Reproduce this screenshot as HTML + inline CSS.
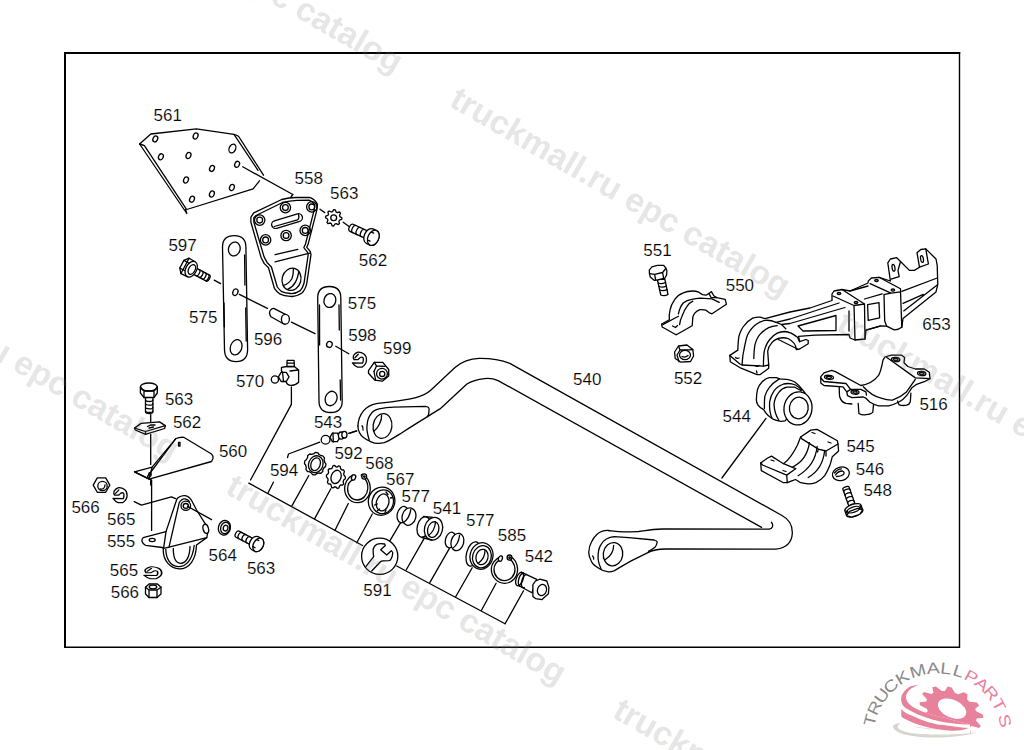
<!DOCTYPE html>
<html><head><meta charset="utf-8"><title>Parts diagram</title>
<style>
html,body{margin:0;padding:0;background:#fff;width:1024px;height:750px;overflow:hidden}
svg{position:absolute;left:0;top:0;display:block}
.wm{font-family:"Liberation Sans",sans-serif;font-weight:bold;font-size:33.5px;fill:#7a7a7a;fill-opacity:0.2}
.lb{font-family:"Liberation Sans",sans-serif;font-size:16.5px;fill:#000;stroke:#fff;stroke-width:0.15px}
.p{fill:none;stroke:#000;stroke-width:1.3;stroke-linejoin:round;stroke-linecap:round}
.pw{fill:#fff;stroke:#000;stroke-width:1.3;stroke-linejoin:round;stroke-linecap:round}
</style></head>
<body>
<svg width="1024" height="750" viewBox="0 0 1024 750">
<!-- frame -->
<path d="M64,53 L960.2,53 M65,52 L65,648" stroke="#000" stroke-width="2" fill="none"/>
<path d="M959.5,52 L959.5,648 M64,647.3 L960.2,647.3" stroke="#000" stroke-width="1.4" fill="none"/>
<!-- PARTS -->
<g id="parts">
<path class="p" d="M139.6,144 L150.8,134 L196.4,128.8 L234,134.4 L258,170.4"/>
<path class="p" d="M234,134.4 Q237,135 238.7,136.5 L263.5,175.2"/>
<path class="p" d="M259.5,180.8 L253.1,188.8 L186.8,209.5"/>
<path class="p" d="M139.6,144 L186.8,213.5 L185.5,209.2"/>
<path class="p" d="M139.6,144 Q142,144.5 144.4,145.6 L186.2,208.8"/>
<ellipse class="p" cx="155.3" cy="138.9" rx="2.3" ry="3.1" transform="rotate(25 155.3 138.9)"/>
<ellipse class="p" cx="195.6" cy="136" rx="2.3" ry="3.1" transform="rotate(25 195.6 136)"/>
<ellipse class="p" cx="160.9" cy="156.8" rx="2.3" ry="3.1" transform="rotate(25 160.9 156.8)"/>
<ellipse class="p" cx="188.5" cy="155.5" rx="2.3" ry="3.1" transform="rotate(25 188.5 155.5)"/>
<ellipse class="p" cx="237.1" cy="164.3" rx="2.3" ry="3.1" transform="rotate(25 237.1 164.3)"/>
<ellipse class="p" cx="212" cy="168.4" rx="2.3" ry="3.1" transform="rotate(25 212 168.4)"/>
<ellipse class="p" cx="186" cy="180" rx="2.3" ry="3.1" transform="rotate(25 186 180)"/>
<ellipse class="p" cx="231.9" cy="187.5" rx="2.3" ry="3.1" transform="rotate(25 231.9 187.5)"/>
<ellipse class="p" cx="211.9" cy="194" rx="2.3" ry="3.1" transform="rotate(25 211.9 194)"/>
<ellipse class="p" cx="192" cy="199.2" rx="2.3" ry="3.1" transform="rotate(25 192 199.2)"/>
<ellipse class="p" cx="232.4" cy="148.5" rx="3.2" ry="4.6" transform="rotate(25 232.4 148.5)"/>
<path class="p" d="M242.7,166.8L292.8,194.5"/>
<path class="pw" d="M253.8,212.8 L281.7,199.5 Q289,197.6 296,197.5 L309.6,197.3 Q315.5,199.5 317.5,204.5 L316.9,209.8 L308.1,244.3 L306.7,247.2 L310.3,251.7 L311,254.6 L306.7,283.9 Q305,290 302.2,292.8 Q296,297 290.5,296.4 Q284,296 280.2,294.2 Q276,291 274.4,288.3 L268.5,267.8 Q266,265 264.1,263.4 L261.1,257.5 L250.9,222.3 L250.9,217.2 Z"/>
<path class="p" d="M256,215.5 L282.5,202.5 Q290,200.5 297,200.3 L309,200.2 Q313.3,201.8 314.8,205.2 L314.2,209.8 L305.5,244 L303.8,247.7 L307.6,252.3 L308.2,254.6 L304,283.3 Q302.5,288.5 300.3,290.6 Q295.5,293.8 290.8,293.5 Q285,293.2 281.8,291.7 Q278.8,289.2 277.3,287 L271.4,267 Q268.8,264 267,262.4 L264,256.6 L253.8,222 L253.8,217.6 Z"/>
<circle class="p" cx="285.4" cy="207.6" r="5.2"/>
<circle class="p" cx="285.4" cy="207.6" r="2.9"/>
<circle class="p" cx="311.8" cy="206.9" r="5.2"/>
<circle class="p" cx="311.8" cy="206.9" r="2.9"/>
<circle class="p" cx="259.7" cy="220.1" r="5.2"/>
<circle class="p" cx="259.7" cy="220.1" r="2.9"/>
<circle class="p" cx="305.2" cy="230.4" r="5.2"/>
<circle class="p" cx="305.2" cy="230.4" r="2.9"/>
<circle class="p" cx="286.1" cy="235.5" r="5.2"/>
<circle class="p" cx="286.1" cy="235.5" r="2.9"/>
<circle class="p" cx="265.6" cy="239.9" r="5.2"/>
<circle class="p" cx="265.6" cy="239.9" r="2.9"/>
<path d="M275.5,224.6 L298.6,217.6" stroke="#000" stroke-width="9" stroke-linecap="round"/>
<path d="M275.5,224.6 L298.6,217.6" stroke="#fff" stroke-width="6.4" stroke-linecap="round"/>
<path class="p" d="M274.2,226.5 L297.5,219.8 Q299.5,218.5 298.6,214.6"/>
<path class="p" d="M275.1,254.6L297.8,249.4"/>
<path class="p" d="M275.1,261.9L309.6,253.1"/>
<ellipse class="p" cx="291.5" cy="279.3" rx="9.4" ry="11.2" transform="rotate(15 291.5 279.3)"/>
<path class="p" d="M293.4,268.8 C293.5,273 293,276 292,278.5 C290,282 287,284.5 283.4,285.3"/>
<path class="p" d="M298.8,272 C298,276 297,279.5 295.5,282.1 C293.5,285.5 291,287.8 288.1,289.1"/>
<path class="p" d="M292.8,194.5L291,197"/>
<path class="pw" d="M341.9,217.8 L341.7,219.4 L339.5,220.2 L338.9,221.3 L339.5,223.6 L338.3,224.6 L336.1,223.6 L334.9,224 L333.7,226 L332.1,225.8 L331.3,223.6 L330.2,223 L327.9,223.6 L326.9,222.4 L327.9,220.2 L327.5,219 L325.5,217.8 L325.7,216.2 L327.9,215.4 L328.5,214.3 L327.9,212 L329.1,211 L331.3,212 L332.5,211.6 L333.7,209.6 L335.3,209.8 L336.1,212 L337.2,212.6 L339.5,212 L340.5,213.2 L339.5,215.4 L339.9,216.6 Z"/>
<circle class="p" cx="333.7" cy="217.8" r="2.9"/>
<path class="p" d="M320,209.2L324.8,212.6"/>
<path class="p" d="M343.2,222.2L348.7,226.3"/>
<g transform="translate(371.5 237) rotate(-155.3)"><path class="pw" d="M2,-3.9 L22,-3.9 A2.3,3.9 0 0 1 22,3.9 L2,3.9 Z"/><path class="p" d="M4.8,-3.9 A2.3,3.9 0 0 1 4.8,3.9"/><path class="p" d="M9.4,-3.9 A2.3,3.9 0 0 1 9.4,3.9"/><path class="p" d="M14.1,-3.9 A2.3,3.9 0 0 1 14.1,3.9"/><path class="p" d="M18.8,-3.9 A2.3,3.9 0 0 1 18.8,3.9"/><path class="pw" d="M-2,-8 L2,-8 A5.4,8 0 0 1 2,8 L-2,8 A5.4,8 0 0 1 -2,-8 Z"/><ellipse class="pw" cx="-2" cy="0" rx="5.4" ry="8"/><path class="p" d="M-0.4,-4.4 L2,-4.4 M-0.4,4.4 L2,4.4"/></g>
<path class="pw" d="M222.5,247 Q222.5,235.6 234.2,235.6 Q245.8,235.6 245.9,247 L247.6,349.5 Q247.6,361.6 236.1,361.6 Q224.6,361.6 224.5,349.5 Z"/>
<path class="p" d="M224,303L224.4,327"/>
<path class="p" d="M244.6,255L244.9,285"/>
<path class="p" d="M245.7,308L246.2,341"/>
<ellipse class="p" cx="234.3" cy="249" rx="5.8" ry="7" transform="rotate(15 234.3 249)"/>
<ellipse class="p" cx="236.1" cy="347.3" rx="5.7" ry="7.8" transform="rotate(20 236.1 347.3)"/>
<ellipse class="p" cx="235.4" cy="292.2" rx="2.5" ry="3.4" transform="rotate(20 235.4 292.2)"/>
<path class="pw" d="M317.7,298 Q317.7,286.5 329.3,286.5 Q340.8,286.5 340.8,298 L342.2,401 Q342.2,412.5 330.7,412.5 Q319,412.5 319,401 Z"/>
<path class="p" d="M319.5,305L319.6,345"/>
<path class="p" d="M339,305L339.3,330"/>
<path class="p" d="M340.2,380L340.6,400"/>
<ellipse class="p" cx="329.9" cy="300.5" rx="5.9" ry="7" transform="rotate(15 329.9 300.5)"/>
<ellipse class="p" cx="329.4" cy="344.4" rx="2.8" ry="3" transform="rotate(20 329.4 344.4)"/>
<ellipse class="p" cx="331.1" cy="398.5" rx="5.8" ry="7.4" transform="rotate(20 331.1 398.5)"/>
<path class="p" d="M214.2,280.1L220.6,283.6"/>
<path class="p" d="M239.4,294.4L267.4,308.4"/>
<path class="p" d="M291.4,322.2L315,333.6"/>
<path class="p" d="M335.8,346.2L348.8,353.7"/>
<g transform="translate(189 268) rotate(28)"><path class="pw" d="M6,-3.4 L21.5,-3.4 A1.6,3.4 0 0 1 21.5,3.4 L6,3.4 Z"/><path class="p" d="M10,-3.4 A1.6,3.4 0 0 1 10,3.4 M13.5,-3.4 A1.6,3.4 0 0 1 13.5,3.4 M17,-3.4 A1.6,3.4 0 0 1 17,3.4 M20.3,-3.4 A1.6,3.4 0 0 1 20.3,3.4"/><path class="pw" d="M-4.5,-8.7 L-1,-4.35 L-1,4.35 L-4.5,8.7 L-8.1,4.35 L-8.1,-4.35 Z"/><path class="pw" d="M-4.5,-8.7 L2.5,-8.4 L2.5,8.4 L-4.5,8.7 Z"/><path class="p" d="M-8.1,-4.35 L-1.5,-4.35 M-8.1,4.35 L-1.5,4.35"/><ellipse class="pw" cx="2.5" cy="0" rx="5.4" ry="8.4"/><ellipse class="p" cx="3.2" cy="0" rx="3.2" ry="5.2"/></g>
<path class="pw" d="M273.8,308.4 L285.4,314.4 L285.4,324 L283.8,324 L271,316.8 Q268.5,313 270.2,310.5 Q271.8,308.2 273.8,308.4 Z"/>
<ellipse class="pw" cx="285.4" cy="319.2" rx="4" ry="4.9"/>
<path class="pw" d="M352.4,362.8 C354,365 355.5,366.5 357.5,367.1 L362,367.1 C364.5,365.5 366.5,363 366.5,360 C366.5,357 366,355.5 364,354 C362,352.5 360,352 358,352.1 C356,352.7 354.5,354 353.5,355.5 C353,357 353.2,358.5 354,359.5 L358,359.6 L359.1,358.5 C360.5,357 362,357 363,357.7 C363.5,358.5 363.5,362 362.5,363.1 Z"/>
<path class="p" d="M355,357.8 L358.3,354.3"/>
<path class="pw" d="M368.5,370.6 L374.3,362.3 L382.8,362.3 L388.7,369.5 L388.7,375.9 L382.3,381.2 L374.9,380.2 L368.5,373.3 Z"/>
<path class="p" d="M374.3,362.3 L376.5,366 L384.8,366.3"/>
<path class="p" d="M376.5,366L374,371.5"/>
<path class="p" d="M374,371.5L375.6,380"/>
<circle class="p" cx="382" cy="373.7" r="5.4"/>
<circle class="p" cx="382.2" cy="373.9" r="2.6"/>
<path class="pw" d="M281.5,367.3 L286.9,366.5 L294.3,366.5 L298.6,370 L298.6,382.2 Q295,385.8 290.1,385.4 Q287,385 286.3,382.2 L281.5,371 Z"/>
<path class="pw" d="M287.1,360.3 L294.1,360.3 L294.3,366.5 L286.9,366.5 Z"/>
<path class="p" d="M287.4,363.2L294,363.2"/>
<path class="p" d="M290,371L298.4,370"/>
<path class="pw" d="M289,376.9 L286.3,381.5 L281.1,381.5 L278.4,376.9 L281.1,372.3 L286.3,372.3 Z"/>
<path class="p" d="M282.5,372L283.5,381.5"/>
<circle class="pw" cx="274.9" cy="379.5" r="3.6"/>
<path class="p" d="M291.4,387L291.4,404.4"/>
<path class="p" d="M291.4,404.4L250.5,480"/>
<path class="p" d="M287.5,457.5 L288.5,454 L319.8,442.2"/>
<circle class="pw" cx="325.6" cy="439.8" r="4.4"/>
<path class="pw" d="M339.9,437.4 L337.4,441.7 L332.4,441.7 L329.9,437.4 L332.4,433.1 L337.4,433.1 Z"/>
<path class="p" d="M333,432.8L333.3,442"/>
<ellipse class="pw" cx="341.2" cy="435.6" rx="2.8" ry="3.6"/>
<ellipse class="pw" cx="344.4" cy="434.7" rx="2.6" ry="3.3"/>
<path class="p" d="M348.5,433.3L356.7,430.9"/>
<path class="p" d="M357.9,426 C358.5,414 366,405.3 376.4,403.6 C390,402 404,400.5 415,397.8 C422,396.2 426,394.5 431,390 L455,367.5 C462,361.5 470,358.6 479,358.4 C488,358.3 500,359.5 509.8,363.4 L782,515.5 C789.5,519.5 792.6,526 792.3,533.5 C791.8,542 786.5,547.8 776,549.2 L665.9,549 C658,549.2 652,550.3 648.4,552.4 L634.7,559.1 C626,563.5 619,568 614.2,570.8 C612,571.6 610,571.9 608.3,571.8 C604,571.5 602,570.5 599.5,568.8 C595,566 592.5,564 591.7,562 C589.5,558 588.6,555 588.8,552 C589,548 590,544.5 591.5,542 C594,537 598,532.5 602.5,531.2 C604.5,530.6 606.5,530.4 608.3,530.5 C614,531.2 618,531.9 623.9,531.9 C630,531.9 634,531.7 638.6,531.5 C644,530.8 649,529.9 653.2,529.5 C657,529.1 660,529 663,529 L769,529.2 C772.3,528.9 774,525.2 771.4,522.3"/>
<path class="p" d="M761.6,527.4 L498.1,380.6 C492,378 488,378.2 484.5,378.7 C478,379.5 472,381 466.9,384 L440,408.9 C432,414 420,421 402.7,432.2 C395,437 389,441 384.3,442.7 C380,443.6 374,443.3 371.1,441.8 C366,439.8 361,436 359.7,433.1 C358.5,431 358,428.5 357.9,426"/>
<path class="p" d="M369.3,440.1 C367,433 366.5,428 367.1,425.1 C367.5,419 369,416 371.1,413.7 C373,411 376,409.5 379,408.9 C385,407.6 390,407.2 393.9,407.1 L425.6,406.3 C428,406.5 429.3,408 429.1,409.3 L428.6,414.6 C428.2,415.6 427.8,416 427.3,416.4"/>
<ellipse class="p" cx="382.5" cy="426" rx="9.4" ry="12.4" transform="rotate(8 382.5 426)"/>
<path class="p" d="M381.6,415.5 C382,421 378,428 373.7,431.3"/>
<path class="p" d="M362,425.8 Q363.5,427.5 363,430"/>
<path class="p" d="M350,433.1L356.6,430.9"/>
<path class="p" d="M601,568.8 C599,564 597.8,560 598.1,557.1 C598,552 598.8,548.5 600.5,545.4 C602,542 604,540.3 606.4,539 C609,537.5 611.5,536.8 614.2,536.6 L628.8,537.6 L654.2,540 C656.5,540.8 657.5,541.8 657.1,542.5 C656.8,544.5 656,545.8 655.2,546.9 C653,548.7 650.5,550.3 648.4,551.3"/>
<ellipse class="p" cx="613" cy="554.2" rx="9.7" ry="11.7" transform="rotate(8 613 554.2)"/>
<path class="p" d="M613.7,545.4 C613.5,551 610,556.5 605.4,559.5"/>
<path class="p" d="M592.6,556 Q594,557.3 593.6,559"/>
<path class="p" d="M248.8,483.1L362.5,545.5"/>
<path class="p" d="M396.7,566L505.1,623.8"/>
<path class="p" d="M268.1,492.7L273.4,482.2"/>
<path class="p" d="M291.9,505.9L308.8,475.5"/>
<path class="p" d="M314.7,518.6L330.8,488.8"/>
<path class="p" d="M334.9,530.5L348.3,503.5"/>
<path class="p" d="M356.8,542.8L372.3,514"/>
<path class="p" d="M390,540.7L400.6,522.7"/>
<path class="p" d="M406.3,569.8L424.2,538.4"/>
<path class="p" d="M429.8,582.6L450,547.4"/>
<path class="p" d="M455.7,596.8L472.2,567.8"/>
<path class="p" d="M481.5,610.3L496.1,583.3"/>
<path class="p" d="M505.1,623.8L523.5,590.7"/>
<path class="pw" d="M325.9,463.7 L325.8,465.2 L325.5,466.6 L324.1,467.6 L323.5,468.7 L322.8,469.8 L322.8,471.6 L321.7,472.6 L320.6,473.4 L318.9,473 L317.7,473.4 L316.5,473.7 L315.2,474.9 L313.8,474.8 L312.4,474.5 L311.5,473 L310.4,472.4 L309.3,471.7 L307.6,471.6 L306.7,470.5 L305.9,469.3 L306.3,467.6 L305.9,466.3 L305.7,465 L304.5,463.7 L304.6,462.2 L304.9,460.8 L306.3,459.8 L306.9,458.7 L307.6,457.6 L307.6,455.8 L308.7,454.8 L309.8,454 L311.5,454.4 L312.7,454 L313.9,453.7 L315.2,452.5 L316.6,452.6 L318,452.9 L318.9,454.4 L320,455 L321.1,455.7 L322.8,455.8 L323.7,456.9 L324.5,458.1 L324.1,459.8 L324.5,461.1 L324.7,462.4 Z"/>
<ellipse class="p" cx="315.8" cy="464.2" rx="7.2" ry="8.6" transform="rotate(20 315.8 464.2)"/>
<ellipse class="p" cx="315.6" cy="464.2" rx="4.6" ry="6.6" transform="rotate(20 315.6 464.2)"/>
<path class="pw" d="M345.4,476.9 L345.3,478.7 L343.7,480 L343.2,481.5 L343.6,483.8 L342.6,485.2 L340.7,485 L339.6,485.9 L338.8,488 L337.4,488.5 L335.9,487 L334.6,486.8 L333,488 L331.6,487.3 L331.1,485 L330.1,484 L328.2,483.8 L327.4,482.2 L328.1,480 L327.8,478.5 L326.4,476.9 L326.5,475.1 L328.1,473.8 L328.6,472.3 L328.2,470 L329.2,468.6 L331.1,468.8 L332.2,467.9 L333,465.8 L334.4,465.3 L335.9,466.8 L337.2,467 L338.8,465.8 L340.2,466.5 L340.7,468.8 L341.7,469.8 L343.6,470 L344.4,471.6 L343.7,473.8 L344,475.3 Z"/>
<ellipse class="p" cx="336.1" cy="476.9" rx="4.9" ry="6.8" transform="rotate(20 336.1 476.9)"/>
<path class="pw" d="M352.6,475.2 C347,478 344.4,484 344.6,489 C345,497 350.5,502.7 357.5,502.7 C365,502.7 370.3,496 370.3,488.5 C370.3,482 367,476.5 362.5,474.4 C361.5,474 361,475.2 361.6,476.5 C362,477.3 363.5,477.3 364.6,478.5 C367,481 368,485 367.8,488.5 C367.5,494.5 363,500 357.5,500 C351.5,500 347.3,494.5 347.6,488.5 C347.8,484 349.7,481 353.2,479.6 C354.5,478.8 354,477 353.7,475.5 Z"/>
<ellipse class="pw" cx="353.6" cy="477.4" rx="2" ry="2.8" transform="rotate(20 353.6 477.4)"/>
<ellipse class="pw" cx="364.2" cy="476.5" rx="2.4" ry="2.6"/>
<circle class="p" cx="364.3" cy="476.6" r="0.8"/>
<ellipse class="pw" cx="381.6" cy="501.2" rx="13.2" ry="14.2" transform="rotate(15 381.6 501.2)"/>
<ellipse class="p" cx="382.8" cy="501.8" rx="10.6" ry="12" transform="rotate(15 382.8 501.8)"/>
<ellipse class="p" cx="382.6" cy="502.4" rx="6.2" ry="8.6" transform="rotate(15 382.6 502.4)"/>
<path class="p" d="M374.5,505 L377.5,504 M377,511 L379.5,509 M386,492 L388,494.5 M390.5,498 L392.5,497.5 M385,512.5 L386,510"/>
<ellipse class="pw" cx="402.7" cy="514.6" rx="5.4" ry="8.3" transform="rotate(15 402.7 514.6)"/>
<ellipse class="pw" cx="409" cy="516.6" rx="6.8" ry="8.8" transform="rotate(15 409 516.6)"/>
<path class="p" d="M410.8,509.6 C410,515 407,520 403.5,522.5"/>
<ellipse class="pw" cx="423.7" cy="526.9" rx="6.4" ry="10.5" transform="rotate(15 423.7 526.9)"/>
<ellipse class="pw" cx="433.5" cy="528.8" rx="9" ry="11.5" transform="rotate(15 433.5 528.8)"/>
<path class="p" d="M423.5,516.5 L433,517.4 M422,537.5 L432,540"/>
<ellipse class="p" cx="433.2" cy="529.6" rx="5.5" ry="8" transform="rotate(15 433.2 529.6)"/>
<path class="p" d="M435.5,522 C435,528 432,533 428.5,535.5"/>
<ellipse class="pw" cx="450.5" cy="540" rx="5" ry="8" transform="rotate(15 450.5 540)"/>
<ellipse class="pw" cx="457.4" cy="542" rx="6.3" ry="8.8" transform="rotate(15 457.4 542)"/>
<path class="p" d="M459.5,535.5 C459,541 456,546 452.5,548.5"/>
<ellipse class="pw" cx="473" cy="554" rx="6.5" ry="12.5" transform="rotate(15 473 554)"/>
<ellipse class="pw" cx="481.5" cy="556" rx="11.4" ry="13.4" transform="rotate(15 481.5 556)"/>
<ellipse class="p" cx="481.9" cy="556.8" rx="9.3" ry="11.2" transform="rotate(15 481.9 556.8)"/>
<ellipse class="p" cx="482" cy="557" rx="6" ry="7.8" transform="rotate(15 482 557)"/>
<path class="p" d="M485,550.5 C485,556 482,560.5 478.5,563"/>
<path class="pw" d="M500.5,556.6 C495,559 491.3,564 491.3,569 C491.3,577 497.5,583.3 504.5,583.3 C512,583.3 517.6,577 517.6,569.5 C517.6,563.5 514.5,558 509.8,556.3 C508.5,556 507.8,557.3 508.6,558.6 C509.5,559.5 511,559.8 512.3,561.5 C514.2,564 515,566.5 515,569.5 C515,575.5 510.5,580.6 504.5,580.6 C498.5,580.6 494,575.5 494,569.5 C494,565 496.5,561.5 500.3,559.8 C501.3,559 501.2,557.5 500.5,556.6 Z"/>
<ellipse class="pw" cx="500.4" cy="558.6" rx="1.9" ry="2.8" transform="rotate(20 500.4 558.6)"/>
<ellipse class="pw" cx="509.5" cy="557.6" rx="2.4" ry="2.6"/>
<circle class="p" cx="509.6" cy="557.7" r="0.8"/>
<path class="pw" d="M521.2,572.2 L536.7,579.4 L531.9,592.7 L518,585.3 Z"/>
<ellipse class="pw" cx="519.6" cy="579.1" rx="3.4" ry="7" transform="rotate(20 519.6 579.1)"/>
<path class="p" d="M523.5,572.8 A3.4,6.9 20 0 0 521.3,586.3 M526.6,574.3 A3.4,6.8 20 0 0 524.4,587.6"/>
<path class="pw" d="M532.9,584.7 L535.5,581 L539.9,579.1 L546.8,581 L548.9,587.4 L548.4,593.8 L542,599.6 L535.6,598.6 L532.9,596.4 Z"/>
<ellipse class="p" cx="542" cy="590" rx="4.5" ry="5.7" transform="rotate(18 542 590)"/>
<circle class="pw" cx="379.7" cy="556.3" r="18.1"/>
<path class="p" d="M366,566.3 L373.7,556.7 C373,552 373,550 373.3,548.7 C374,546.5 375,545 376.7,544.3 C379,543.5 382,543.5 384.7,544 L385.3,545.5 L380.7,549.7 L386.7,555 L391.3,550.7 C392.5,551.5 393,552.5 392.7,553.5 C392.5,556 392,557.5 391,559 C390.5,560 390,560.5 389,560.7 L383,560.8 C382,561 381.3,561.2 380.7,561.5 L371.7,571"/>
<path class="pw" d="M145.5,396 L145.5,412 A3.7,1.5 0 0 0 152.9,412 L152.9,396"/>
<path class="p" d="M145.5,400 A3.7,1.5 0 0 0 152.9,400"/>
<path class="p" d="M145.5,403.7 A3.7,1.5 0 0 0 152.9,403.7"/>
<path class="p" d="M145.5,407.4 A3.7,1.5 0 0 0 152.9,407.4"/>
<path class="p" d="M145.5,411 A3.7,1.5 0 0 0 152.9,411"/>
<path class="pw" d="M140.4,387 L140.4,393 L144,397.5 L154,397.5 L157.3,393 L157.3,387 Z"/>
<ellipse class="pw" cx="148.8" cy="387" rx="8.4" ry="4"/>
<path class="p" d="M144,391 L144,397.5 M154,391 L154,397.5 M140.4,387 L144,391 L154,391 L157.3,387"/>
<path class="p" d="M150.7,414.6L150.7,421.9"/>
<path class="pw" d="M134.5,428.1 L141.1,423.4 L159.5,421.9 L165.3,425.6 L164.6,428.5 L145.5,434.4 L135.3,430 Z"/>
<path class="p" d="M134.5,428.1 L145.5,431.5 L165.3,425.6 M145.5,431.5 L145.5,434.4"/>
<path class="p" d="M147.5,426.5 L151,424.8 L155,425 M149,428 L153.5,427"/>
<path class="p" d="M150.7,434.4L150.7,464.4"/>
<path class="pw" d="M134.5,471.8 L152.1,467.1 L175.6,438.8 Q179,437 183.7,437.3 L211.5,454 Q213.5,456 213,458.5 L211.5,461.5 L149.2,479.1 Z"/>
<path class="p" d="M134.5,471.8 L149.2,479.1 L147.5,476.5 L175.6,438.8"/>
<path class="p" d="M149.2,479.1 L152.1,467.1"/>
<path class="p" d="M178.5,442.5 L178.5,446 L180,446 L180,442.3 Z"/>
<ellipse class="p" cx="150" cy="474.5" rx="1.3" ry="1.8"/>
<path class="p" d="M150.7,479.5L150.7,485"/>
<path class="pw" d="M109.8,485.1 L105.7,492.3 L97.3,492.3 L93.2,485.1 L97.3,477.9 L105.7,477.9 Z"/>
<circle class="p" cx="102.5" cy="486" r="4.7"/>
<path class="p" d="M100,489 Q104.5,490 105,485"/>
<g transform="translate(-239.4 135.6)">
<path class="pw" d="M352.4,362.8 C354,365 355.5,366.5 357.5,367.1 L362,367.1 C364.5,365.5 366.5,363 366.5,360 C366.5,357 366,355.5 364,354 C362,352.5 360,352 358,352.1 C356,352.7 354.5,354 353.5,355.5 C353,357 353.2,358.5 354,359.5 L358,359.6 L359.1,358.5 C360.5,357 362,357 363,357.7 C363.5,358.5 363.5,362 362.5,363.1 Z"/>
<path class="p" d="M355,357.8 L358.3,354.3"/>
</g>
<path class="p" d="M134.2,501.6 L141.4,505.2 L171.4,496.8 L175.6,498.6"/>
<path class="p" d="M151.6,480L151.6,530.4"/>
<path class="pw" d="M166,531.6 L143.2,537.6 Q141.5,539.5 142,541.2 Q143,544.5 145.6,545.4 L162.3,547.5 Q163.5,548.2 163.3,550 C163,560 170,568.6 179.5,568.8 C189,568.8 196,560 196.5,545 L206.8,537.6 L208,530.4 L205.6,524.4 L196.6,510 L191.2,499.8 Q188,495.4 184,495.6 Q179,496 176.8,499.2 Z"/>
<path class="p" d="M169,547.2 L179.2,502.8 Q181.5,498.5 185,498.8 Q188.5,499.5 189.5,502"/>
<path class="p" d="M163.6,548.4 L169,547.2 L206.8,537.6"/>
<path class="p" d="M166,531.6 L163.6,548.4"/>
<ellipse class="p" cx="152.2" cy="540" rx="3" ry="1.6"/>
<path class="p" d="M165.8,549.5 C166,558 170,566.5 178.3,566.7 C186,566.8 192.5,560 194.2,545.5"/>
<path class="p" d="M173.3,548.5 C173.3,556 175,563 180.5,563.3 C186,563.5 189.8,557 190,546.5"/>
<ellipse class="pw" cx="185.8" cy="505.8" rx="4.8" ry="4.6"/>
<ellipse class="p" cx="185.8" cy="505.9" rx="2.6" ry="2.4"/>
<ellipse class="pw" cx="205.8" cy="528.8" rx="2.7" ry="4.6" transform="rotate(-15 205.8 528.8)"/>
<path class="p" d="M187.6,506.4L211.6,519.6"/>
<ellipse class="pw" cx="224.4" cy="527.8" rx="6" ry="7.4" transform="rotate(15 224.4 527.8)"/>
<ellipse class="p" cx="225.2" cy="528" rx="4.5" ry="5.8" transform="rotate(15 225.2 528)"/>
<ellipse class="p" cx="225.6" cy="528.1" rx="2.3" ry="2.9" transform="rotate(15 225.6 528.1)"/>
<g transform="translate(256.5 544) rotate(-152.7)"><path class="pw" d="M2,-3.4 L21.4,-3.4 A2,3.4 0 0 1 21.4,3.4 L2,3.4 Z"/><path class="p" d="M4.7,-3.4 A2,3.4 0 0 1 4.7,3.4"/><path class="p" d="M9.2,-3.4 A2,3.4 0 0 1 9.2,3.4"/><path class="p" d="M13.7,-3.4 A2,3.4 0 0 1 13.7,3.4"/><path class="p" d="M18.2,-3.4 A2,3.4 0 0 1 18.2,3.4"/><path class="pw" d="M-2,-7.2 L2,-7.2 A4.9,7.2 0 0 1 2,7.2 L-2,7.2 A4.9,7.2 0 0 1 -2,-7.2 Z"/><ellipse class="pw" cx="-2" cy="0" rx="4.9" ry="7.2"/><path class="p" d="M-0.5,-4 L2,-4 M-0.5,4 L2,4"/></g>
<g transform="translate(152.9 572.7) scale(1.26 0.8) translate(-359.5 -359.6)">
<path class="pw" d="M352.4,362.8 C354,365 355.5,366.5 357.5,367.1 L362,367.1 C364.5,365.5 366.5,363 366.5,360 C366.5,357 366,355.5 364,354 C362,352.5 360,352 358,352.1 C356,352.7 354.5,354 353.5,355.5 C353,357 353.2,358.5 354,359.5 L358,359.6 L359.1,358.5 C360.5,357 362,357 363,357.7 C363.5,358.5 363.5,362 362.5,363.1 Z"/>
<path class="p" d="M355,357.8 L358.3,354.3"/>
</g>
<path class="pw" d="M145.5,587.2 L149,584 L157.5,584 L161,587.2 L161,594 L157,597.5 L149,597.5 L145.5,594 Z"/>
<path class="p" d="M145.5,587.2 L149,590 L157,590 L161,587.2 M149,590 L149,597.5 M157,590 L157,597.5"/>
<ellipse class="p" cx="153" cy="587" rx="3.8" ry="1.8"/>
<path class="pw" d="M657.3,279.5 L660.8,295 Q664.5,296.5 668,294.5 L664.8,279 Z"/>
<path class="p" d="M658.3,283 Q661.5,284.5 665.5,282.5 M659.2,286.5 Q662.5,288 666.3,286 M660,290 Q663.3,291.5 667.1,289.6"/>
<path class="pw" d="M649.3,270.1 L651.9,266.9 L657.3,265.3 L663.7,265.3 L665.8,268 L666.9,270.7 L666.6,275 L664.8,278.2 L657.8,279.8 L654.1,280.3 L650.3,277.1 L649.5,273.9 Z"/>
<path class="p" d="M649.5,273.6 L654.6,274.4 L662.6,272.5 L665.8,268.5 M654.6,274.4 L655.7,280 M662.6,272.5 L663.7,278.6"/>
<path class="pw" d="M661.6,324 L669.4,319.8 C669,316 669.3,313 670,310.2 C671,305 673,302 674.8,299.4 C677,296 680,294 683.2,292.8 C686,291.5 689.5,291 692.8,291 C695,291 697,291.5 698.8,292.2 L702.4,294.6 L706,295.2 L709,293.4 L711.4,291.6 L713.8,295.8 L716.8,297.6 L725.2,299.4 L726.4,304.2 L712,313.8 L709,312.6 L706,310.2 C703.5,309.5 702,309.4 700,309.6 C698,310.3 696.5,311.3 695.2,312.6 C694,314 693.2,315.6 692.8,317.4 L692.2,325.8 L677.2,334.2 L676,334.8 L662.2,327 Z"/>
<path class="p" d="M678.4,313.8 C679.5,309 681,305.5 683.2,303 C686,300.8 688.5,299.8 691.6,299.4 C694.5,298.8 697,298.4 700,298.2 L712,298.8 L719.2,302.4"/>
<path class="p" d="M679.6,324.6 C680,321 680.8,318.5 682,316.2 C683.5,312 685,309 686.8,306.6 C688.5,304 690.5,302.3 692.8,301.2"/>
<path class="p" d="M662.8,324.6 L678.4,316.2"/>
<path class="p" d="M709,293.4 L711,297.5 L716.8,297.6"/>
<path class="p" d="M672.5,326 L675.5,327.5 L677.5,325.5"/>
<path class="pw" d="M674.6,352 L678.5,346 L687,345 L692.8,349.5 L693.6,356 L690.5,361.5 L681,362.2 L675.2,358.5 Z"/>
<path class="p" d="M678.5,346 L680,350 L689.5,349.8 L692.8,349.5 M680,350 L677,355 L679,361.8"/>
<ellipse class="p" cx="685" cy="355" rx="5.5" ry="4.6"/>
<path class="p" d="M682,356.5 Q685,358 688,355.5"/>
<path class="pw" d="M729.8,355.4 L737.8,350.1 C738,345 738.3,340 738.9,336.3 C740.5,331 742,328 744.2,325.6 C747,322 750,319.5 752.7,318.1 C755.5,317.2 758,317 760.2,317.1 L765,318.7 L790,312 L810,308 L832,300.5 L832,294 L834,291 L842,289.5 L850,291 L868,283 L868.2,281.1 L871.4,278 L879,277.3 L890.4,281 L887.8,262.8 L890.4,259 L896.7,257.7 L900.5,261.5 L909.4,270.4 L914.4,270.4 L919.5,267.2 L917,252.7 L920.8,249.5 L925.8,248.9 L936,259 L937.2,265.3 L937.8,284.3 L936,291.9 L903,318.5 L901.8,327.3 C899,329.5 897,330 894.2,329.9 L886.6,326.1 L880,326 L866,330 L865,339 L855,340 L850,338 L849,334.5 L815,335.2 L798.6,336.3 L799.6,341.6 L806,339.5 L808.2,340.5 L808.2,343.7 L799.6,349 L796.4,349.6 C796,345 793,341 788,338.5 C785,337.5 782,337.5 778.3,338.4 C775,340 772.5,341.5 771.9,342.7 C769.5,345.5 768,348 767.7,351.2 L768.7,365 L768.7,368.2 L760.2,374.6 L757,374.6 L741,368.2 L730.3,361.8 Z"/>
<path class="p" d="M742.1,365 C742.5,358 743,354 743.7,351.2 C745,344 746,339 747.4,335.2 C750,330 752.5,327 755.9,324.5 C759,322 762,320.8 765.5,320.3 C769,320 773,321 776.2,322.4 L781.5,324.5 L785.8,328.8"/>
<path class="p" d="M753.8,358.6 C754,352 754.3,348 754.9,344.8 C756.5,339 758,336.5 760.2,334.1 C763,331 766,329 768.7,327.7 C771.5,326.3 774.5,325.8 777.2,325.6"/>
<path class="p" d="M763.4,366.1 C763.5,358 763.8,353 764.5,350.1 C766,345 767.5,342 769.8,339.5 C772,336.5 774.5,334.5 777.2,333.1 C779.5,332 782,331.5 784.7,331.5 C787,331.6 789,332.2 791.1,333.1 C793.5,334.5 796,336 797.5,337.3 L799.6,341.6"/>
<path class="p" d="M778.3,339.5 L797.5,349"/>
<path class="p" d="M729.8,355.4 L739.9,364 L742.1,365 L763.4,366.1 L768.7,365"/>
<path class="p" d="M735.5,357.5 Q737,359 739,358 M755,365.5 Q757,367 759,365.5 M756.5,371 L757,373"/>
<path class="p" d="M776.2,322.4 L790,319 L839,303 M781.5,324.5 L790,323.5 L845,307.5"/>
<path class="p" d="M798,326 L836,315.5 L836,330.5 L803,331 Z"/>
<path class="p" d="M849,311 L849,331"/>
<path class="p" d="M833,296 L854,305.5 L864.5,304 L842,289.5 M854,305.5 L855,340 M864.5,304 L865,339"/>
<ellipse class="p" cx="839" cy="293.5" rx="1.8" ry="1"/>
<ellipse class="p" cx="856" cy="302.5" rx="1.8" ry="1"/>
<path class="p" d="M850,291 L868,286 M864.5,299 L882.2,293.8 M866,330 L880,326"/>
<path class="p" d="M867.6,304.6 L879,302.7 L879.6,317.8 L868.2,320.4 Z"/>
<path class="p" d="M870.1,283.7 L891,293.2 L900.5,291.9 L900.5,288.7 L879,277.3 M891,293.2 L884.7,294.4 M884,294.4 L884.7,321 L886.6,326.1 M900.5,291 L901.8,327.3"/>
<ellipse class="p" cx="876.5" cy="280.5" rx="1.8" ry="1"/>
<ellipse class="p" cx="892.9" cy="290" rx="1.8" ry="1"/>
<path class="p" d="M891,279.2 L899.2,276.7 L898,270.4 L900.5,261.5"/>
<path class="p" d="M919.5,267.2 L928.4,264 L925.8,248.9"/>
<ellipse class="p" cx="893.5" cy="267.8" rx="1.4" ry="3.4" transform="rotate(-10 893.5 267.8)"/>
<ellipse class="p" cx="922" cy="259" rx="1.4" ry="3.4" transform="rotate(-10 922 259)"/>
<path class="p" d="M901.8,291.3 L937.2,278 M903,303.3 L923.3,294.4 M903.7,310.9 L937.2,285"/>
<path class="pw" d="M820.8,376.7 L824,372.9 L831.6,370.3 L835.4,371.6 L860.8,385.5 C868,384.5 875,380 878.6,375.4 C881,371 882,365 883,360.2 L884.9,357 L891.3,355.1 L901.4,355.1 L904.6,357.6 L904,362.7 L907.8,366.5 L915.4,369 L924.3,369 L929.3,372.2 L930,378.6 L924.3,381.7 L916.6,384.3 L911.6,388.1 C909,392 908,394 906.5,395.7 C904,399 901.5,400.8 898.9,402 C895,404 892,405 888.7,405.9 L878.6,405.9 C875,405 872,403.5 869.7,402 L865.9,398.2 L863.3,397 L851.9,397.6 L847.5,395.7 L846.8,391.9 L843,386.8 L824,385.5 L820.8,383 Z"/>
<path class="p" d="M820.8,378 L824,381.5 L846,383.5 L850.6,389.4"/>
<path class="p" d="M886.2,357 L915.4,377.9 L930,378.6"/>
<path class="p" d="M863.3,386.8 C868,392 874,396.5 881.1,398.2 C885,399.5 889,400.3 892.5,400.1 C898,398 903,395 906.5,391.9 C910,387 913,383 915.4,379.2"/>
<path class="p" d="M846.8,391.9 L850.6,389.4 L860.8,389.4 L865.9,391.9 L866.5,395.1"/>
<ellipse class="p" cx="829" cy="377.3" rx="4.5" ry="2" transform="rotate(5 829 377.3)"/>
<ellipse class="p" cx="829" cy="377.3" rx="2.5" ry="1" transform="rotate(5 829 377.3)"/>
<ellipse class="p" cx="855" cy="392.2" rx="4" ry="2" transform="rotate(5 855 392.2)"/>
<ellipse class="p" cx="855" cy="392.2" rx="2.2" ry="1" transform="rotate(5 855 392.2)"/>
<ellipse class="p" cx="895.7" cy="359.5" rx="4.2" ry="2" transform="rotate(5 895.7 359.5)"/>
<ellipse class="p" cx="895.7" cy="359.5" rx="2.3" ry="1" transform="rotate(5 895.7 359.5)"/>
<ellipse class="p" cx="921.7" cy="373.5" rx="4.2" ry="2" transform="rotate(5 921.7 373.5)"/>
<ellipse class="p" cx="921.7" cy="373.5" rx="2.3" ry="1" transform="rotate(5 921.7 373.5)"/>
<path class="p" d="M839.2,387 L839.5,396 Q841,402.5 846,403.3 L851.9,404"/>
<path class="p" d="M858.2,403.5 L858.9,413.5 Q862,415.5 865.9,414.7 Q871,414.5 872.8,412.2 L873.5,404.6"/>
<path class="p" d="M897.6,401 L898.9,404.6 Q902,406 906.5,405.2 Q909.5,404.5 910.3,402 L910.9,393.2"/>
<path class="pw" d="M762,382 C764.5,379.5 766.5,378 769.2,377.6 L776.4,377.6 L779.6,378.8 C783,379.3 786,379.4 788.4,379.6 C791,380.3 793,381 794.8,382 C797.5,384 800,386.5 802,389.2 L805,393 L785.2,420.8 C783,421.3 781.5,421.4 779.6,421.2 C777,420.6 774.5,419.8 772.4,418.8 C769.5,417 767.5,415.5 766,413.2 L763.6,409.6 C761,408.3 759.2,407 758,405.2 C757,403.5 756.5,402 756.4,400.4 C756.3,396 756.8,392.5 757.6,389.2 C758.8,386 760,384 762,382 Z"/>
<path class="p" d="M764.4,408.4 C764.3,404 764.4,400 764.8,396.4 C765.8,393 767.3,390 769.2,387.6 C771.5,384.5 774,382.3 777.2,380.4 L779.6,378.8"/>
<path class="p" d="M772,418 C770,414 769.3,408 769.6,402 C770.5,397 772,393.5 774,390.8 C776.5,387.5 779.8,385.3 783.6,384 C788,383 792,383.5 795.5,385 C798,386.5 800,388 801.5,390"/>
<path class="p" d="M779,420.5 C776,416 774.3,410 774,404.4 C774.5,399.5 776.3,395.5 778.8,392.4 C781,389.5 783.5,388 786.8,387.2 L794.8,387.2 L801.2,390.8"/>
<ellipse class="pw" cx="798" cy="408.4" rx="14" ry="16.6" transform="rotate(8 798 408.4)"/>
<ellipse class="p" cx="798.8" cy="408" rx="9.4" ry="10.8" transform="rotate(8 798.8 408)"/>
<path class="p" d="M766,418.4L721.9,478"/>
<path class="pw" d="M800.6,437 L810.8,430.1 L817.1,429.4 L837.4,440.8 L838,444 L838.6,451 L832.3,456.7 C831.5,460 830.7,463 829.8,465.6 C828,470 826.5,473 824.7,475.7 C822,479 819,481.3 815.8,482.7 C813,483.6 810.5,484 808.2,483.9 C805.5,483.8 803,483.3 800.6,482.7 L795.6,479.5 L791.8,480.8 L787.3,482.7 L783.5,482.7 L761.3,470.6 L760.7,463 L767.7,458 L771.5,456.1 L780.3,461.8 L783.5,463.7 C789,460 794,452 797.5,445 Z"/>
<path class="p" d="M800.6,437 L801.9,438.9 L818.4,449.1 L826,451 L838,444 M818.4,449.1 L817.5,452 M826,451 L826,456"/>
<path class="p" d="M760.7,463 L762.5,465 L786.7,475.1 L795.6,468.7 M786.7,475.1 L787.3,482.7"/>
<path class="p" d="M809.5,442.7 C808,452 803,462 793,466.8"/>
<path class="p" d="M817.1,446.5 C816,458 811,468 798.1,475.7"/>
<path class="p" d="M824.7,450.3 C823.5,462 818,472 808.2,477.5"/>
<path class="p" d="M783.5,463.7 L795.6,468.7"/>
<path class="p" d="M771,460 L774,461 M783,470.5 L786,471.5 M812,432.5 L815,433.5 M828,442 L831,443"/>
<ellipse class="pw" cx="840.9" cy="473.8" rx="8.6" ry="6.7" transform="rotate(-15 840.9 473.8)"/>
<path class="p" d="M835.5,475 Q838,471 842.5,471 Q845,472 843.5,474.5 Q841,476.5 836.5,476.5 M834.5,473 Q837.5,469 841.5,468.8"/>
<g transform="translate(853.8 510.4) rotate(-109.4)"><path class="pw" d="M2.5,-3.3 L23.5,-3.3 A1.5,3.3 0 0 1 23.5,3.3 L2.5,3.3 Z"/><path class="p" d="M4.9,-3.3 A1.5,3.3 0 0 1 4.9,3.3"/><path class="p" d="M8.8,-3.3 A1.5,3.3 0 0 1 8.8,3.3"/><path class="p" d="M12.8,-3.3 A1.5,3.3 0 0 1 12.8,3.3"/><path class="p" d="M16.8,-3.3 A1.5,3.3 0 0 1 16.8,3.3"/><path class="p" d="M20.8,-3.3 A1.5,3.3 0 0 1 20.8,3.3"/><path class="pw" d="M-2.5,-8.6 L2.5,-8.6 A3.6,8.6 0 0 1 2.5,8.6 L-2.5,8.6 A3.6,8.6 0 0 1 -2.5,-8.6 Z"/><path class="pw" d="M-2.5,8.6 L-5.6,4.3 L-5.6,-4.3 L-2.5,-8.6 L0.6,-4.3 L0.6,4.3 Z"/><ellipse class="p" cx="0.8" cy="0" rx="2.7" ry="6.4"/><path class="p" d="M-0.7,-7.5 L2.5,-7.5 M-0.7,7.5 L2.5,7.5"/></g>
<g id="logo">
<path transform="translate(951.5 710) rotate(24)" d="M33.3,2.6 L32.5,5.3 L24.9,6.4 L23.4,8.4 L26.8,12.9 L23.9,15 L16.5,13.5 L13.7,14.8 L13.2,19.8 L9,20.7 L3.8,17 L0.3,17.2 L-4,21.3 L-8.3,20.8 L-10,16 L-13.1,15 L-20.1,17.2 L-23.4,15.4 L-21.1,10.6 L-23.1,8.8 L-30.8,8.4 L-32.3,5.8 L-26.5,2.4 L-26.8,0.2 L-33.3,-2.6 L-32.5,-5.3 L-24.9,-6.4 L-23.4,-8.4 L-26.8,-12.9 L-23.9,-15 L-16.5,-13.5 L-13.7,-14.8 L-13.2,-19.8 L-9,-20.7 L-3.8,-17 L-0.3,-17.2 L4,-21.3 L8.3,-20.8 L10,-16 L13.1,-15 L20.1,-17.2 L23.4,-15.4 L21.1,-10.6 L23.1,-8.8 L30.8,-8.4 L32.3,-5.8 L26.5,-2.4 L26.8,-0.2 Z M15,-1.5 A15,9 0 1 0 -15,-1.5 A15,9 0 1 0 15,-1.5 Z" fill="#e8819b" fill-rule="evenodd"/>
<path d="M896,690 L906.1,698.3 C907,701 908,702 908.3,703.1 C910.5,705.5 912.5,706.8 914.7,707.9 C919,710 923,711.8 927.6,713.3 C933,715 938,716.5 943.7,717.6 C949,719 954,720.6 959.8,721.9 C963,722.6 966,723.3 970,724.2 L970,745 L890,745 L890,690 Z" fill="#fff"/>
<path d="M900.7,723 C894,723.5 892,725.5 893.4,728 C895.5,732.5 905,735.5 920,737 C940,738.5 962,737 975.9,732.6 C980,731.3 982.5,730.8 983.4,730.5 C975,733 960,735 940,735.4 C918,735.4 902,732 898.5,728.5 C897,726.5 898,724.5 900.7,723 Z" fill="#d6d6ce"/>
<path d="M908,733 C925,736.5 950,736.8 972,733 C950,735.2 928,735 908,733 Z" fill="#d6d6ce"/>
<path d="M912,726 C925,729 945,729.5 962,728.5 C945,730.5 925,730 912,726 Z" fill="#d6d6ce"/>
<path d="M919,684.8 C914,685.5 911,686 909.3,687 C907,688.5 905.3,690 904,691.8 C902.5,693.8 901.6,695.5 901.3,697.2 C901,699.5 901.2,701.5 901.8,703.6 C903,706 905,707.8 907.2,709 C910.5,711 914,712.8 917.9,714.4 C923,716.4 928,718.2 933,719.7 C939,721.2 944,722.2 950.2,723 C955,723.7 960,724.2 965.2,724.6 L971.6,724.6 C967,723.5 963,722.7 959.8,721.9 C954,720.6 949,719 943.7,717.6 C938,716.5 933,715 927.6,713.3 C923,711.8 919,710 914.7,707.9 C912.5,706.8 910.5,705.5 908.3,703.1 C907,701 906.3,699.8 906.1,698.3 C905.8,696 906.2,694.5 907.2,692.9 C909,689.5 913,687 919,684.8 Z" fill="#e8819b"/>
<path d="M901.3,709 C904,712.5 907.5,714 911.5,715.4 C917,717.8 922,720 927.6,721.9 C933,723.5 938,724.4 943.7,725.1 C950,726 955,726.8 959.8,727.3 C963,727.6 965.5,727.9 968.4,728 C965,729.6 961.5,730.4 958.7,730.5 C953,730.8 948,730.6 943.7,730 C937,729.2 932,728.4 927.6,727.3 C921,725.5 916,723.8 911.5,721.9 C907,719.8 903.5,718.5 901.3,716.5 Z" fill="#e8819b"/>
<text x="0" y="0" transform="translate(875.4 721.5) rotate(-75.4) scale(1.22 1)" text-anchor="middle" font-family="Liberation Sans" font-size="16" fill="#8a8a8a">T</text>
<text x="0" y="0" transform="translate(879.6 710.1) rotate(-64.5) scale(1.22 1)" text-anchor="middle" font-family="Liberation Sans" font-size="16" fill="#8a8a8a">R</text>
<text x="0" y="0" transform="translate(886.1 699.2) rotate(-53.2) scale(1.22 1)" text-anchor="middle" font-family="Liberation Sans" font-size="16" fill="#8a8a8a">U</text>
<text x="0" y="0" transform="translate(894.5 690.1) rotate(-42.1) scale(1.22 1)" text-anchor="middle" font-family="Liberation Sans" font-size="16" fill="#8a8a8a">C</text>
<text x="0" y="0" transform="translate(905.1 682.3) rotate(-30.3) scale(1.22 1)" text-anchor="middle" font-family="Liberation Sans" font-size="16" fill="#8a8a8a">K</text>
<text x="0" y="0" transform="translate(919.4 676.1) rotate(-16.4) scale(1.22 1)" text-anchor="middle" font-family="Liberation Sans" font-size="16" fill="#8a8a8a">M</text>
<text x="0" y="0" transform="translate(933.5 673.6) rotate(-3.6) scale(1.22 1)" text-anchor="middle" font-family="Liberation Sans" font-size="16" fill="#8a8a8a">A</text>
<text x="0" y="0" transform="translate(945.1 674) rotate(6.8) scale(1.22 1)" text-anchor="middle" font-family="Liberation Sans" font-size="16" fill="#8a8a8a">L</text>
<text x="0" y="0" transform="translate(956.8 676.5) rotate(17.5) scale(1.22 1)" text-anchor="middle" font-family="Liberation Sans" font-size="16" fill="#8a8a8a">L</text>
<text x="0" y="0" transform="translate(968.7 681.6) rotate(29.1) scale(1.22 1)" text-anchor="middle" font-family="Liberation Sans" font-size="16" fill="#e8819b">P</text>
<text x="0" y="0" transform="translate(978.6 688.4) rotate(39.8) scale(1.22 1)" text-anchor="middle" font-family="Liberation Sans" font-size="16" fill="#e8819b">A</text>
<text x="0" y="0" transform="translate(986.9 696.7) rotate(50.3) scale(1.22 1)" text-anchor="middle" font-family="Liberation Sans" font-size="16" fill="#e8819b">R</text>
<text x="0" y="0" transform="translate(994.1 707.5) rotate(61.9) scale(1.22 1)" text-anchor="middle" font-family="Liberation Sans" font-size="16" fill="#e8819b">T</text>
<text x="0" y="0" transform="translate(999.7 722) rotate(75.8) scale(1.22 1)" text-anchor="middle" font-family="Liberation Sans" font-size="16" fill="#e8819b">S</text>
</g>
</g>
<!-- labels -->
<g id="labels" class="lb">
<text transform="translate(153.5 121.0) scale(1.03 1)">561</text>
<text transform="translate(294.6 184.3) scale(1.03 1)">558</text>
<text transform="translate(330.1 199.4) scale(1.03 1)">563</text>
<text transform="translate(358.8 265.9) scale(1.03 1)">562</text>
<text transform="translate(168.4 250.8) scale(1.03 1)">597</text>
<text transform="translate(189.0 322.8) scale(1.03 1)">575</text>
<text transform="translate(253.9 345.0) scale(1.03 1)">596</text>
<text transform="translate(347.8 309.2) scale(1.03 1)">575</text>
<text transform="translate(348.2 341.2) scale(1.03 1)">598</text>
<text transform="translate(383.0 354.3) scale(1.03 1)">599</text>
<text transform="translate(235.9 387.1) scale(1.03 1)">570</text>
<text transform="translate(313.9 427.5) scale(1.03 1)">543</text>
<text transform="translate(334.4 459.4) scale(1.03 1)">592</text>
<text transform="translate(365.2 468.8) scale(1.03 1)">568</text>
<text transform="translate(269.9 475.8) scale(1.03 1)">594</text>
<text transform="translate(386.0 484.5) scale(1.03 1)">567</text>
<text transform="translate(401.5 502.0) scale(1.03 1)">577</text>
<text transform="translate(432.8 514.3) scale(1.03 1)">541</text>
<text transform="translate(466.0 526.4) scale(1.03 1)">577</text>
<text transform="translate(497.8 541.0) scale(1.03 1)">585</text>
<text transform="translate(524.7 562.0) scale(1.03 1)">542</text>
<text transform="translate(363.3 595.8) scale(1.03 1)">591</text>
<text transform="translate(573.0 385.4) scale(1.03 1)">540</text>
<text transform="translate(673.9 384.2) scale(1.03 1)">552</text>
<text transform="translate(722.6 421.5) scale(1.03 1)">544</text>
<text transform="translate(643.3 256.0) scale(1.03 1)">551</text>
<text transform="translate(725.7 291.1) scale(1.03 1)">550</text>
<text transform="translate(922.3 329.6) scale(1.03 1)">653</text>
<text transform="translate(919.4 409.6) scale(1.03 1)">516</text>
<text transform="translate(846.4 451.6) scale(1.03 1)">545</text>
<text transform="translate(855.8 474.9) scale(1.03 1)">546</text>
<text transform="translate(863.5 495.5) scale(1.03 1)">548</text>
<text transform="translate(164.9 405.3) scale(1.03 1)">563</text>
<text transform="translate(172.9 427.5) scale(1.03 1)">562</text>
<text transform="translate(218.9 456.7) scale(1.03 1)">560</text>
<text transform="translate(71.4 513.4) scale(1.03 1)">566</text>
<text transform="translate(107.1 524.8) scale(1.03 1)">565</text>
<text transform="translate(106.9 547.1) scale(1.03 1)">555</text>
<text transform="translate(109.8 576.1) scale(1.03 1)">565</text>
<text transform="translate(110.7 597.6) scale(1.03 1)">566</text>
<text transform="translate(208.5 560.8) scale(1.03 1)">564</text>
<text transform="translate(246.9 574.0) scale(1.03 1)">563</text>
</g>
<!-- watermarks -->
<g id="wms">
<text class="wm" transform="translate(447.9,105.3) rotate(30)">truckmall.ru epc catalog</text>
<text class="wm" transform="translate(60.8,-118.7) rotate(30)">truckmall.ru epc catalog</text>
<text class="wm" transform="translate(-163.1,268.5) rotate(30)">truckmall.ru epc catalog</text>
<text class="wm" transform="translate(835.0,329.3) rotate(30)">truckmall.ru epc catalog</text>
<text class="wm" transform="translate(224.0,492.5) rotate(30)">truckmall.ru epc catalog</text>
<text class="wm" transform="translate(611.1,716.5) rotate(30)">truckmall.ru epc catalog</text>
</g>

</svg>
</body></html>
